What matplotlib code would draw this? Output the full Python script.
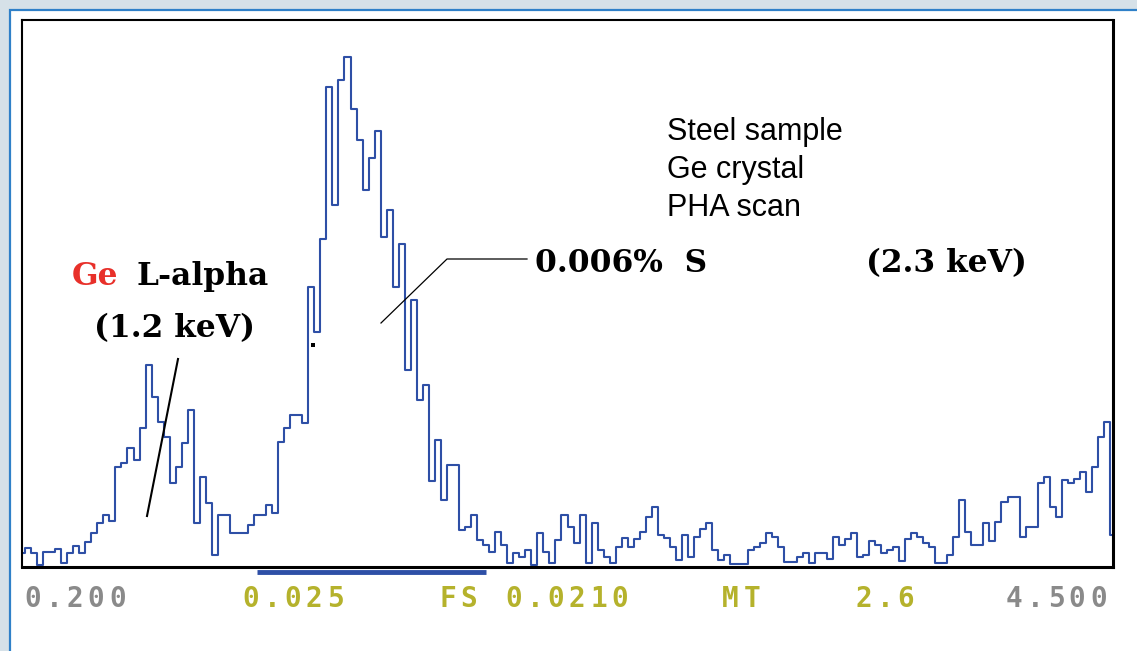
import numpy as np
import matplotlib
matplotlib.use("Agg")
import matplotlib.pyplot as plt
from matplotlib.patches import Rectangle
from matplotlib.lines import Line2D

# PHA scan counts per channel (channel 0 = 0.200, last channel = 4.500)
counts = [
    14, 19, 14, 2, 15, 15, 18, 4, 14, 21,
    14, 25, 34, 44, 52, 46, 100, 104, 119, 107,
    139, 202, 170, 145, 130, 84, 100, 124, 157, 44,
    90, 64, 12, 52, 52, 34, 34, 34, 42, 52,
    52, 62, 54, 125, 139, 152, 152, 144, 280, 235,
    328, 480, 362, 487, 510, 458, 427, 377, 409, 436,
    330, 357, 280, 323, 197, 267, 167, 182, 86, 127,
    67, 102, 102, 37, 40, 52, 27, 22, 15, 35,
    22, 4, 14, 10, 17, 2, 34, 15, 4, 27,
    52, 40, 24, 52, 4, 44, 17, 10, 4, 20,
    29, 20, 28, 35, 50, 60, 32, 29, 20, 7,
    32, 10, 30, 38, 44, 17, 7, 12, 3, 3,
    3, 17, 20, 24, 34, 30, 20, 5, 5, 10,
    14, 4, 14, 14, 8, 30, 22, 28, 34, 10,
    12, 26, 22, 14, 17, 20, 6, 28, 34, 30,
    24, 20, 4, 4, 12, 30, 67, 35, 22, 22,
    44, 26, 45, 65, 70, 70, 30, 40, 40, 84,
    90, 60, 50, 87, 84, 88, 95, 75, 100, 130,
    145, 32,
]
roi = [39, 77]  # channel window marked under the axis

scale_labels = ["0.200", "0.025", "FS", "0.0210", "MT", "2.6", "4.500"]
scale_left = [22, 240, 437, 503, 720, 853, 1003]
scale_colors = ["#8a8a8a", "#b5b22c", "#b5b22c", "#b5b22c", "#b5b22c", "#b5b22c", "#8a8a8a"]

W, H = 1137, 651
line_blue = "#2e4fa6"


def px(x, y):
    # pixel position (from top-left) -> figure fraction
    return x / W, 1 - y / H


fig = plt.figure(figsize=(W / 100, H / 100), dpi=100)
fig.patch.set_facecolor("#d6e1e8")

# white panel with blue border
x0, y0 = px(10, 10)
panel = Rectangle((x0, -0.1), 1.2, y0 + 0.1, transform=fig.transFigure,
                  facecolor="white", edgecolor="#2f80c8", linewidth=1.6, zorder=0)
fig.add_artist(panel)

ax = fig.add_axes([22 / W, (H - 567) / H, 1091 / W, 547 / H])
ax.set_facecolor("white")
chan = np.arange(len(counts))
ax.plot(chan, counts, drawstyle="steps-mid", color=line_blue, lw=1.5)
ax.set_xlim(0, len(counts) - 1)
ax.set_ylim(0, 547)
ax.set_xticks([])
ax.set_yticks([])
for side, sp in ax.spines.items():
    sp.set_color("black")
    sp.set_linewidth(2.2 if side in ("right", "bottom") else 1.5)
    sp.set_zorder(5)

# region marker under the axis
ax.plot(roi, [-0.009, -0.009], transform=ax.get_xaxis_transform(),
        color=line_blue, lw=3.5, solid_capstyle="butt", clip_on=False)

# scale labels under the chart, wide monospace characters
step = 21.2
for text, left, col in zip(scale_labels, scale_left, scale_colors):
    for k, ch in enumerate(text):
        fx, fy = px(left + step * k + step / 2, 599)
        fig.text(fx, fy, ch, ha="center", va="center", color=col,
                 family="DejaVu Sans Mono", weight="bold", fontsize=20)

# notes
for i, line in enumerate(["Steel sample", "Ge crystal", "PHA scan"]):
    fx, fy = px(667, 140 + 38 * i)
    fig.text(fx, fy, line, family="Liberation Sans", fontsize=22, va="baseline")

serif = dict(family="DejaVu Serif", weight="bold", fontsize=22.5, va="baseline")
fx, fy = px(535, 272)
fig.text(fx, fy, "0.006%  S", **serif)
fx, fy = px(866, 272)
fig.text(fx, fy, "(2.3 keV)", **serif)
fx, fy = px(72, 285)
fig.text(fx, fy, "Ge", color="#e8302a", **serif)
fx, fy = px(136, 285)
fig.text(fx, fy, "L-alpha", **serif)
fx, fy = px(94, 337)
fig.text(fx, fy, "(1.2 keV)", **serif)

# leader lines
pts = [px(527, 259), px(447, 259), px(381, 323)]
fig.add_artist(Line2D([p[0] for p in pts], [p[1] for p in pts],
                      transform=fig.transFigure, color="black", lw=0.9))
pts = [px(178, 359), px(147, 516)]
fig.add_artist(Line2D([p[0] for p in pts], [p[1] for p in pts],
                      transform=fig.transFigure, color="black", lw=1.5))
sx, sy = px(311, 347)
fig.add_artist(Rectangle((sx, sy), 4 / W, 4 / H, transform=fig.transFigure,
                         facecolor="black", edgecolor="none"))

fig.savefig("out.png", dpi=100, facecolor=fig.get_facecolor())
